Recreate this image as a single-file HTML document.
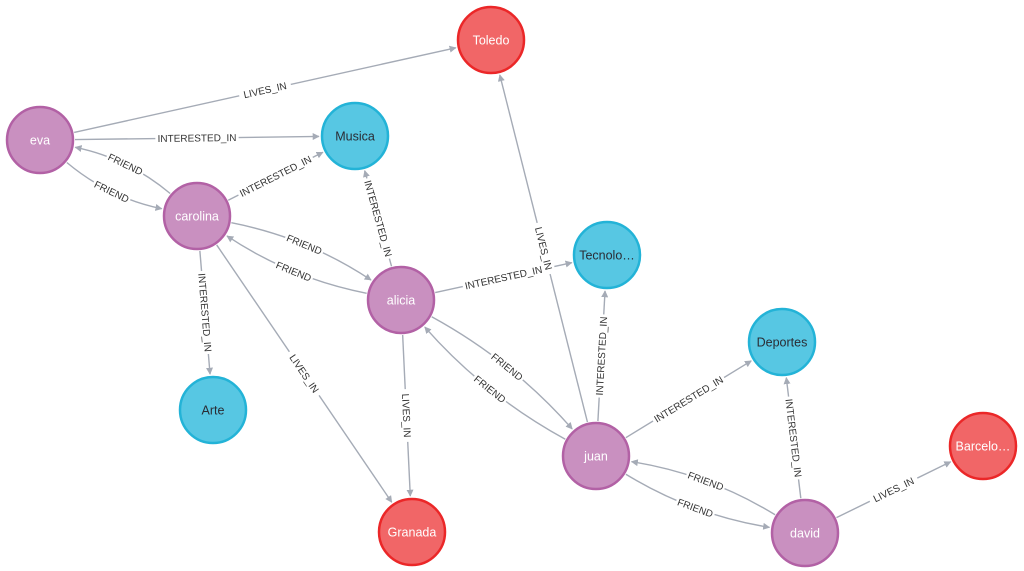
<!DOCTYPE html>
<html><head><meta charset="utf-8"><style>
html,body{margin:0;padding:0;background:#fff;width:1024px;height:571px;overflow:hidden}
svg{display:block}
</style></head><body>
<svg id="g" width="1024" height="571" xmlns="http://www.w3.org/2000/svg" font-family="Liberation Sans, sans-serif">
<defs><marker id="ar" viewBox="0 0 10 10" refX="9" refY="5" markerWidth="7" markerHeight="7" orient="auto" markerUnits="userSpaceOnUse"><path d="M0,0L10,5L0,10z" fill="#a5abb6"/></marker></defs>
<g id="edges"></g><g id="nodes"></g>
</svg>
<script>
var N={
Toledo:[491,40,'r','Toledo'],eva:[40,140,'p','eva'],Musica:[355,136,'b','Musica'],
carolina:[197,216,'p','carolina'],Tec:[607,255,'b','Tecnolo…'],alicia:[401,300,'p','alicia'],
Deportes:[782,342,'b','Deportes'],Arte:[213,410,'b','Arte'],juan:[596,456,'p','juan'],
Barc:[983,446,'r','Barcelo…'],Granada:[412,532,'r','Granada'],david:[805,533,'p','david']};
var R=34;
var E=[['eva','Toledo','LIVES_IN',0],['eva','Musica','INTERESTED_IN',0],
['carolina','eva','FRIEND',1],['eva','carolina','FRIEND',1],
['carolina','Musica','INTERESTED_IN',0],['carolina','Arte','INTERESTED_IN',0],['carolina','Granada','LIVES_IN',0],
['carolina','alicia','FRIEND',-1],['alicia','carolina','FRIEND',-1],
['alicia','Musica','INTERESTED_IN',0],['alicia','Tec','INTERESTED_IN',0],['alicia','Granada','LIVES_IN',0],
['alicia','juan','FRIEND',-1],['juan','alicia','FRIEND',-1],
['juan','Toledo','LIVES_IN',0],['juan','Tec','INTERESTED_IN',0],['juan','Deportes','INTERESTED_IN',0],
['juan','david','FRIEND',1],['david','juan','FRIEND',1],
['david','Deportes','INTERESTED_IN',0],['david','Barc','LIVES_IN',0]];
var ns='http://www.w3.org/2000/svg',eg=document.getElementById('edges'),ng=document.getElementById('nodes');
function el(t,a,p){var e=document.createElementNS(ns,t);for(var k in a)e.setAttribute(k,a[k]);p.appendChild(e);return e;}
E.forEach(function(e){
 var a=N[e[0]],b=N[e[1]],dx=b[0]-a[0],dy=b[1]-a[1],L=Math.hypot(dx,dy),ux=dx/L,uy=dy/L;
 var nx=-uy,ny=ux,off=22*e[3];
 var cx=(a[0]+b[0])/2+nx*off,cy=(a[1]+b[1])/2+ny*off;
 function bd(p,tx,ty,r){var ddx=tx-p[0],ddy=ty-p[1],l=Math.hypot(ddx,ddy);return [p[0]+ddx/l*r,p[1]+ddy/l*r];}
 var s=bd(a,cx,cy,R+1),t=bd(b,cx,cy,R+2);
 var d=off?('M'+s[0]+','+s[1]+' Q'+cx+','+cy+' '+t[0]+','+t[1]):('M'+s[0]+','+s[1]+' L'+t[0]+','+t[1]);
 el('path',{d:d,stroke:'#a5abb6','stroke-width':1.4,fill:'none','marker-end':'url(#ar)'},eg);
 var mx,my;
 if(off){mx=0.25*s[0]+0.5*cx+0.25*t[0];my=0.25*s[1]+0.5*cy+0.25*t[1];}else{mx=(s[0]+t[0])/2;my=(s[1]+t[1])/2;}
 var ang=Math.atan2(dy,dx)*180/Math.PI;if(ang>90)ang-=180;if(ang<-90)ang+=180;
 var g=el('g',{transform:'translate('+mx+','+my+') rotate('+ang+')'},eg);
 var w=e[2].length*6.1+4;
 el('rect',{x:-w/2,y:-6,width:w,height:12,fill:'#fff'},g);
 var tx=el('text',{x:0,y:3.5,'text-anchor':'middle','font-size':10,fill:'#333'},g);tx.textContent=e[2];
});
var C={p:['#c990c0','#b261a5','#fff'],b:['#57c7e3','#23b3d7','#2a2c34'],r:['#f16667','#eb2728','#fff']};
for(var k in N){var n=N[k],c=C[n[2]];
 el('circle',{cx:n[0],cy:n[1],r:R-1,fill:c[0],stroke:c[1],'stroke-width':2.5},ng);
 var t=el('text',{x:n[0],y:n[1]+4.5,'text-anchor':'middle','font-size':12.5,fill:c[2]},ng);t.textContent=n[3];}
</script>
</body></html>
